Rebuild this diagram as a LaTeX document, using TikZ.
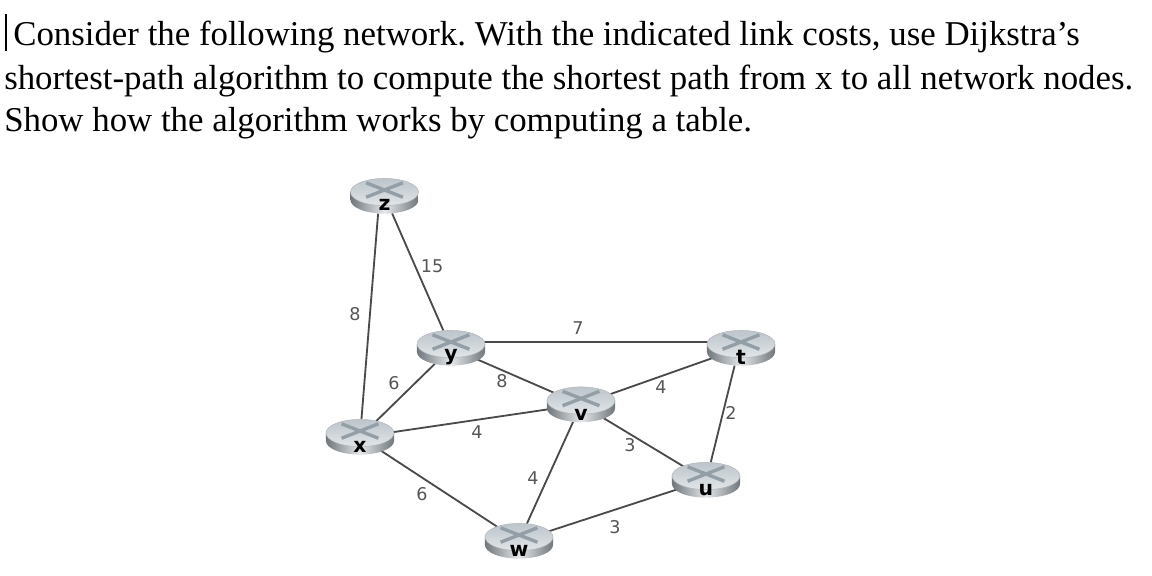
\documentclass[tikz,border=0pt]{standalone}
\usepackage{fontspec}
\setmainfont{Liberation Serif}
\newfontfamily\labelfont{DejaVu Sans}
\newfontfamily\routerfont{DejaVu Sans}
\usetikzlibrary{backgrounds,shapes.geometric}
\frenchspacing

\definecolor{lnk}{HTML}{4A4A4A}
\definecolor{costgray}{HTML}{555555}
\definecolor{topgray}{HTML}{BCC5CB}
\definecolor{markgray}{HTML}{939FA7}
\definecolor{sidedark}{HTML}{6F777C}
\definecolor{sidelight}{HTML}{E3E7EA}

\begin{document}
\begin{tikzpicture}[
  x=0.025cm, y=-0.025cm,
  router/.style={ellipse, minimum width=1.7cm, minimum height=0.88cm, inner sep=0pt},
  rlabel/.style={font=\routerfont\bfseries\fontsize{14.5}{15}\selectfont, text=black, inner sep=0pt},
  cost/.style={font=\labelfont\fontsize{12.5}{13}\selectfont, text=costgray, inner sep=0pt},
  lnkline/.style={draw=lnk, line width=1.3pt},
  txt/.style={font=\fontsize{24.77}{28}\selectfont, anchor=base west, inner sep=0pt}
]
\useasboundingbox (0,0) rectangle (1152,576);

% question text
\node[txt] (line1) at (13,46) {Consider the following network. With the indicated link costs, use Dijkstra’s};
\node[txt] (line2) at (4,90) {shortest-path algorithm to compute the shortest path from x to all network nodes.};
\node[txt] (line3) at (4,132) {Show how the algorithm works by computing a table.};
\coordinate (bartop) at (6,14);
\coordinate (barbot) at (6,51);
\draw[line width=0.8pt] (bartop) -- (barbot);

% routers
\node[router] (z) at (384.5,196) {};
\node[router] (y) at (451,348) {};
\node[router] (x) at (360,437) {};
\node[router] (v) at (581,404.5) {};
\node[router] (t) at (741,348) {};
\node[router] (u) at (706,480) {};
\node[router] (w) at (519,541) {};

\foreach \n in {z,y,x,v,t,u,w} {
  \begin{scope}[shift={(\n.center)}, x=1cm, y=1cm]
    \shade[left color=sidedark, right color=sidedark, middle color=sidelight]
      (-.85,.1) -- (-.85,-.1) arc[start angle=180, end angle=360, x radius=.85, y radius=.34]
      -- (.85,.1) -- cycle;
    \shade[top color=topgray, bottom color=topgray!45!white, draw=gray!60, line width=0.3pt]
      (0,.1) ellipse[x radius=.85, y radius=.34];
    \draw[markgray, line width=2.4pt] (-.46,-.03) -- (.46,.33);
    \draw[markgray, line width=2.4pt] (-.46,.33) -- (.46,-.03);
  \end{scope}
}

% router names
\foreach \n/\off in {z/9,y/9,x/10,v/10,t/9,u/10,w/10}
  \node[rlabel] (\n-name) at ([yshift=-\off*0.025cm]\n.center) {\n};

% links
\begin{pgfonlayer}{background}
\draw[lnkline] (z.250) -- (x);
\draw[lnkline] (z) -- (y);
\draw[lnkline] (x) -- (y);
\draw[lnkline] (x) -- (v);
\draw[lnkline] (x) -- (w);
\draw[lnkline] (y) -- (v);
\draw[lnkline] (y.10) -- (t.170);
\draw[lnkline] (v) -- (w);
\draw[lnkline] (v) -- (t);
\draw[lnkline] (v) -- (u);
\draw[lnkline] (t.250) -- (u.75);
\draw[lnkline] (u) -- (w);
\end{pgfonlayer}

% link costs
\node[cost] (c-zy) at (432,266) {15};
\node[cost] (c-zx) at (355,314) {8};
\node[cost] (c-xy) at (394,383) {6};
\node[cost] (c-yv) at (502,381) {8};
\node[cost] (c-xv) at (477,432) {4};
\node[cost] (c-xw) at (422,494) {6};
\node[cost] (c-vw) at (533,478) {4};
\node[cost] (c-yt) at (578,328) {7};
\node[cost] (c-vt) at (661,387) {4};
\node[cost] (c-tu) at (731,413) {2};
\node[cost] (c-vu) at (630,445) {3};
\node[cost] (c-uw) at (615,527) {3};
\end{tikzpicture}
\end{document}
